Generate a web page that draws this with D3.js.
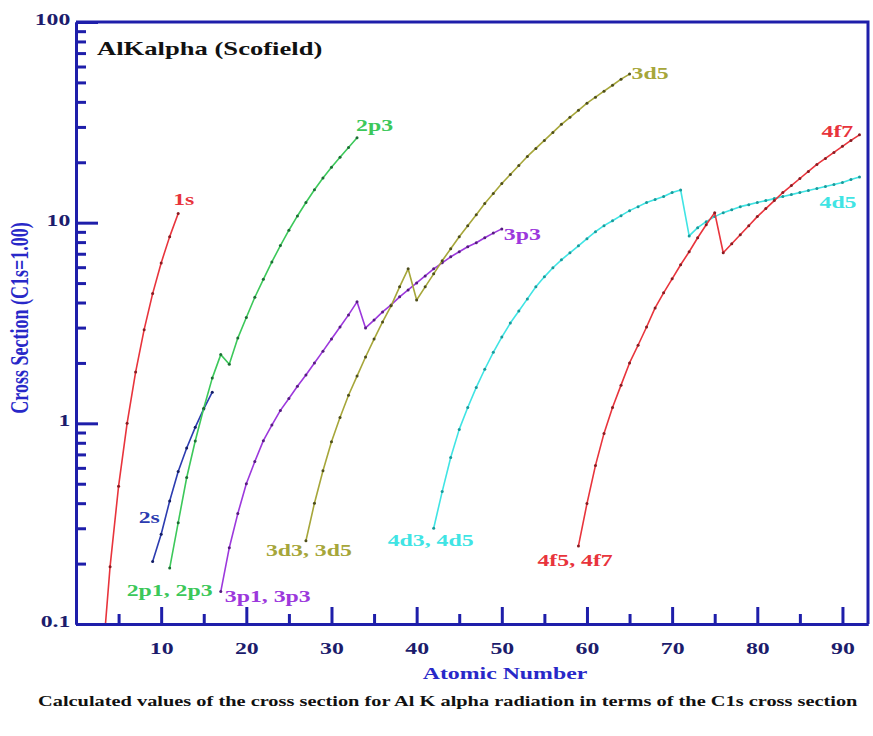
<!DOCTYPE html>
<html>
<head>
<meta charset="utf-8">
<script src="https://cdn.jsdelivr.net/npm/d3@7"></script>
<style>
  body { margin: 0; background: #fff; }
  svg { display: block; font-family: "Liberation Serif", "Times New Roman", serif; font-weight: bold; }
</style>
</head>
<body>
<svg id="chart"></svg>
<script>
// values, one entry per atomic number starting at *Start
const s1Start = 3;
const s1Values = [0.057, 0.193, 0.486, 1.0, 1.8, 2.93, 4.43, 6.3, 8.52, 11.1];

const s2Start = 9;
const s2Values = [0.205, 0.28, 0.41, 0.575, 0.753, 0.955, 1.18, 1.43];

// 2p total up to Cl, then 2p3 only
const p2Start = 11;
const p2Values = [0.19, 0.32, 0.537, 0.817, 1.19, 1.68, 2.2,
  1.97, 2.66, 3.37, 4.25, 5.22, 6.37, 7.69, 9.17, 10.8, 12.6, 14.6, 16.7, 18.9, 21.2, 23.7, 26.5];

const p3Start = 17;
const p3Values = [0.145, 0.24, 0.355, 0.5, 0.645, 0.82, 0.98, 1.16, 1.33, 1.53, 1.74, 2.0, 2.29, 2.63, 3.02, 3.47, 4.03,
  2.99, 3.27, 3.59, 3.89, 4.27, 4.62, 5.01, 5.43, 5.89, 6.31, 6.76, 7.16, 7.59, 7.94, 8.41, 8.87, 9.31];

const d3Start = 27;
const d3Values = [0.26, 0.4, 0.58, 0.81, 1.07, 1.38, 1.72, 2.14, 2.63, 3.2, 3.85, 4.79, 5.89,
  4.12, 4.79, 5.56, 6.46, 7.41, 8.51, 9.66, 10.96, 12.45, 13.96, 15.67, 17.38, 19.28, 21.38, 23.44,
  25.7, 28.18, 30.9, 33.5, 36.3, 39.4, 42.2, 45.2, 48.4, 51.9, 55.0];

const d4Start = 42;
const d4Values = [0.3, 0.457, 0.676, 0.933, 1.2, 1.51, 1.86, 2.26, 2.69, 3.16, 3.63, 4.17, 4.79, 5.37, 5.96,
  6.53, 7.08, 7.67, 8.32, 9.02, 9.66, 10.23, 10.84, 11.48, 12.02, 12.59, 13.03, 13.49, 14.13, 14.55,
  8.59, 9.44, 10.12, 10.72, 11.22, 11.61, 12.02, 12.3, 12.59, 12.88, 13.18, 13.49, 13.8, 14.13, 14.45,
  14.79, 15.14, 15.49, 15.85, 16.41, 16.9];

const f4Start = 59;
const f4Values = [0.245, 0.398, 0.617, 0.891, 1.2, 1.55, 2.0, 2.45, 3.02, 3.76, 4.47, 5.25, 6.17, 7.16, 8.41, 9.77, 11.22,
  7.08, 7.85, 8.71, 9.66, 10.72, 11.75, 12.88, 14.13, 15.31, 16.6, 17.99, 19.5, 20.9, 22.4, 24.0, 25.7, 27.4];

const xMajorTicks = [10, 20, 30, 40, 50, 60, 70, 80, 90];
const xMinorTicks = [5, 15, 25, 35, 45, 55, 65, 75, 85];
const yMajorTicks = [0.1, 1, 10, 100];
const yMinorTicks = [2, 3, 4, 5, 6, 7, 8, 9].flatMap(m => [m * 0.1, m, m * 10]);

const series = [
  { start: s1Start, values: s1Values, color: "#e8343c", dot: "#8a1c22", startLabel: null, endLabel: ["1s", -5, -9] },
  { start: s2Start, values: s2Values, color: "#2c3cb0", dot: "#141e66", startLabel: ["2s", -14, -38], endLabel: null },
  { start: p2Start, values: p2Values, color: "#3cc85a", dot: "#1c6e34", startLabel: ["2p1, 2p3", -43, 28], endLabel: ["2p3", -1, -7] },
  { start: p3Start, values: p3Values, color: "#9c38dc", dot: "#561c80", startLabel: ["3p1, 3p3", 4, 10], endLabel: ["3p3", 2, 11] },
  { start: d3Start, values: d3Values, color: "#a6a63a", dot: "#4e4e1a", startLabel: ["3d3, 3d5", -40, 15], endLabel: ["3d5", 2, 5] },
  { start: d4Start, values: d4Values, color: "#40e4e4", dot: "#1a9a9a", startLabel: ["4d3, 4d5", -46, 18], endLabel: ["4d5", -40, 31] },
  { start: f4Start, values: f4Values, color: "#e8343c", dot: "#8a1c22", startLabel: ["4f5, 4f7", -41, 20], endLabel: ["4f7", -38, 2] }
];

const width = 873, height = 736;
const margin = { top: 22, right: 5, bottom: 112, left: 76 };
const SX = 1.4; // the picture's lettering is wide
const axisColor = "#1e1eaa";
const tickTextColor = "#1c1c6c";

const svg = d3.select("#chart").attr("width", width).attr("height", height);

const x = d3.scaleLinear().domain([0, 93]).range([margin.left, width - margin.right]);
const y = d3.scaleLog().domain([0.1, 100]).range([height - margin.bottom, margin.top]);
const plotBottom = height - margin.bottom;

svg.append("clipPath").attr("id", "plot-clip")
  .append("rect")
  .attr("x", x.range()[0]).attr("y", margin.top)
  .attr("width", x.range()[1] - x.range()[0]).attr("height", plotBottom - margin.top);

// curves
const line = d3.line().x(d => x(d.z)).y(d => y(d.v));
const plot = svg.append("g").attr("clip-path", "url(#plot-clip)");

series.forEach(s => {
  const pts = s.values.map((v, i) => ({ z: s.start + i, v }));
  s.pts = pts;
  plot.append("path")
    .datum(pts)
    .attr("fill", "none")
    .attr("stroke", s.color)
    .attr("stroke-width", 1.6)
    .attr("stroke-linejoin", "round")
    .attr("d", line);
  plot.selectAll(null)
    .data(pts)
    .enter()
    .append("circle")
    .attr("cx", d => x(d.z))
    .attr("cy", d => y(d.v))
    .attr("r", 1.5)
    .attr("fill", s.dot);
});

// axes
function styleAxis(g) {
  g.selectAll(".tick line").attr("stroke", axisColor).attr("stroke-width", 3);
  g.selectAll("path.domain").attr("stroke", axisColor).attr("stroke-width", 3);
  g.selectAll("text")
    .attr("fill", tickTextColor)
    .attr("font-size", 17)
    .attr("font-weight", "bold")
    .attr("font-family", "Liberation Serif, Times New Roman, serif")
    .attr("transform", `scale(${SX},1)`);
}

svg.append("g")
  .attr("transform", `translate(0,${plotBottom})`)
  .call(d3.axisBottom(x).tickValues(xMinorTicks).tickSize(-10).tickSizeOuter(0).tickFormat(""))
  .call(g => styleAxis(g));

svg.append("g")
  .attr("transform", `translate(0,${plotBottom})`)
  .call(d3.axisBottom(x).tickValues(xMajorTicks).tickSize(-17).tickSizeOuter(0).tickPadding(18))
  .call(g => styleAxis(g));

svg.append("g")
  .attr("transform", `translate(${margin.left},0)`)
  .call(d3.axisLeft(y).tickValues(yMinorTicks).tickSize(-10).tickSizeOuter(0).tickFormat(""))
  .call(g => styleAxis(g));

svg.append("g")
  .attr("transform", `translate(${margin.left},0)`)
  .call(d3.axisLeft(y).tickValues(yMajorTicks).tickSize(-22).tickSizeOuter(0).tickPadding(4).tickFormat(d => String(d)))
  .call(g => styleAxis(g))
  .call(g => g.selectAll("text").attr("dy", "0.15em"));

// frame top and right
svg.append("path")
  .attr("d", `M${x.range()[0]},${margin.top}H${x.range()[1]}V${plotBottom}`)
  .attr("fill", "none")
  .attr("stroke", axisColor)
  .attr("stroke-width", 3);

// texts
function label(txt, px, py, color, size, anchor, sx) {
  svg.append("text")
    .attr("transform", `translate(${px},${py}) scale(${sx || SX},1)`)
    .attr("text-anchor", anchor || "start")
    .attr("fill", color)
    .attr("font-size", size)
    .text(txt);
}

series.forEach(s => {
  const first = s.pts[0], last = s.pts[s.pts.length - 1];
  if (s.startLabel) label(s.startLabel[0], x(first.z) + s.startLabel[1], y(first.v) + s.startLabel[2], s.color, 17);
  if (s.endLabel) label(s.endLabel[0], x(last.z) + s.endLabel[1], y(last.v) + s.endLabel[2], s.color, 17);
});

label("AlKalpha (Scofield)", 97, 55, "#111", 19);
label("Atomic Number", 505, 679, "#2828c8", 17, "middle");
label("Calculated values of the cross section for Al K alpha radiation in terms of the C1s cross section", 38, 706, "#111", 14, "start", 1.455);

svg.append("text")
  .attr("transform", `translate(28,318) rotate(-90) scale(1,1.35)`)
  .attr("text-anchor", "middle")
  .attr("fill", "#2828c8")
  .attr("font-size", 18)
  .text("Cross Section (C1s=1.00)");
</script>
</body>
</html>
